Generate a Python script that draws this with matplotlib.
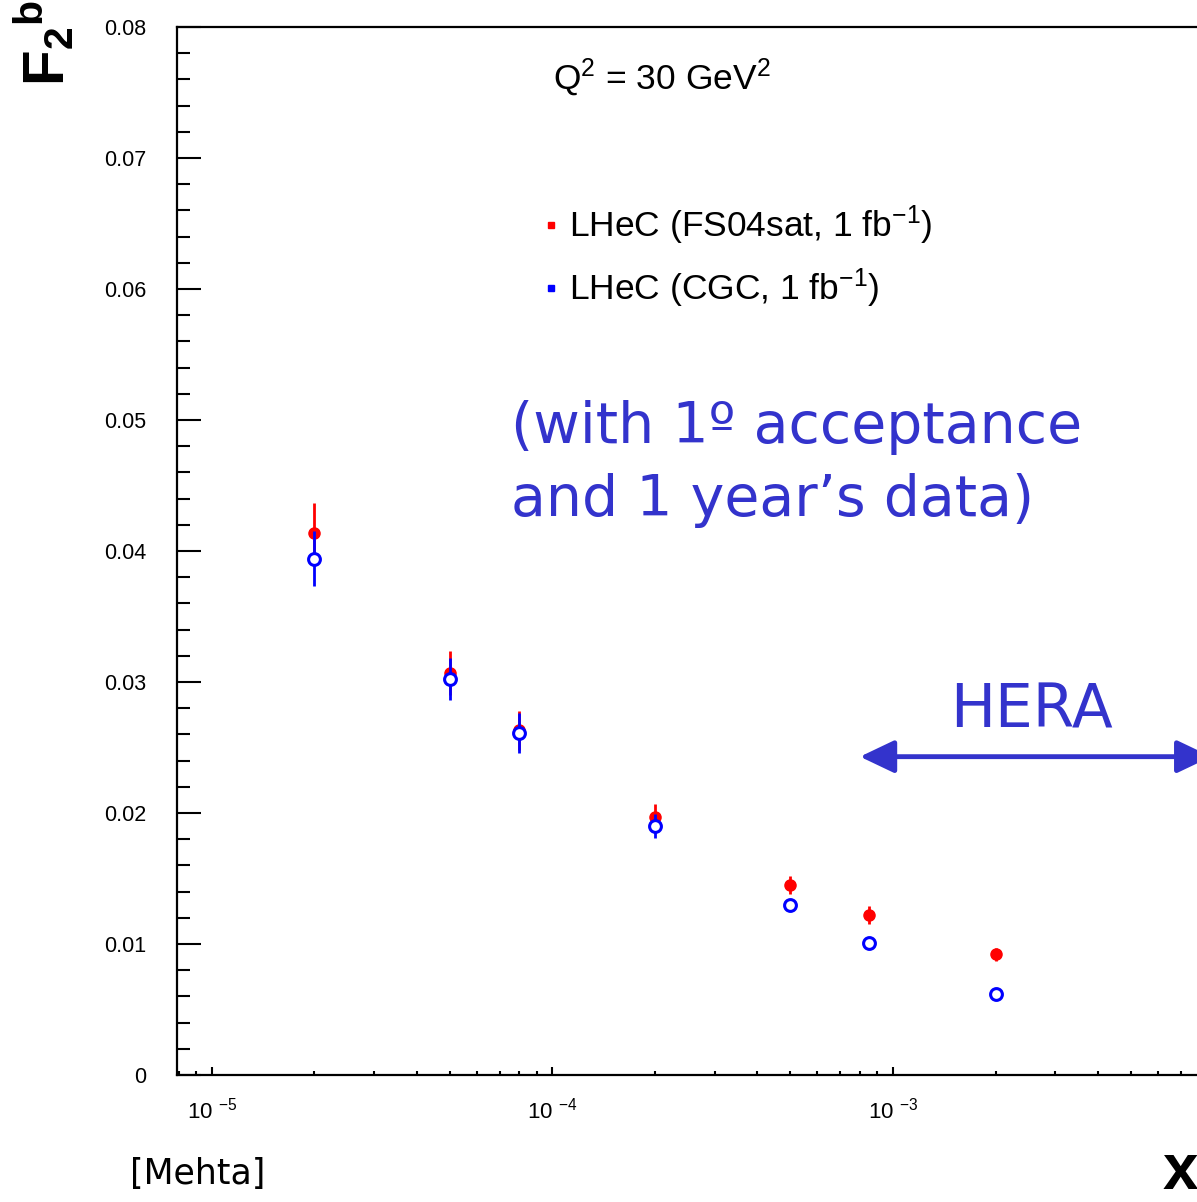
import numpy as np
import matplotlib.pyplot as plt
from matplotlib.lines import Line2D

plt.rcParams['font.family'] = 'Liberation Sans'
plt.rcParams['mathtext.fontset'] = 'custom'
plt.rcParams['mathtext.rm'] = 'Liberation Sans'
plt.rcParams['mathtext.it'] = 'Liberation Sans:italic'
plt.rcParams['mathtext.bf'] = 'Liberation Sans:bold'
plt.rcParams['axes.unicode_minus'] = False

# data
x = [2e-5, 5e-5, 8e-5, 2e-4, 5e-4, 8.5e-4, 2e-3]
f2b_sat = [0.0414, 0.0307, 0.0263, 0.0197, 0.0145, 0.0122, 0.0092]
err_sat = [0.0023, 0.0017, 0.0015, 0.0010, 0.0007, 0.0007, 0.0005]
f2b_cgc = [0.0394, 0.0302, 0.0261, 0.0190, 0.0130, 0.0101, 0.0062]
err_cgc = [0.0021, 0.0016, 0.0015, 0.0009, 0.0004, 0.0003, 0.0003]

xticks = [1e-5, 1e-4, 1e-3]
xtick_labels = ["10 $^{-5}$", "10 $^{-4}$", "10 $^{-3}$"]
yticks = [0, 0.01, 0.02, 0.03, 0.04, 0.05, 0.06, 0.07, 0.08]
ytick_labels = ["0", "0.01", "0.02", "0.03", "0.04", "0.05", "0.06", "0.07", "0.08"]

labels = ["LHeC (FS04sat, 1 fb$^{-1}$)", "LHeC (CGC, 1 fb$^{-1}$)"]
hand_blue = "#3333cc"

W, H = 1197, 1202
fig = plt.figure(figsize=(W / 100, H / 100), dpi=100)
ax = fig.add_axes([177 / W, 1 - 1075 / H, (1233.6 - 177) / W, (1075 - 27) / H])

# data
ax.errorbar(x, f2b_sat, yerr=err_sat, fmt='o', color='red', ms=8,
            elinewidth=2, capsize=0, zorder=3)
ax.errorbar(x, f2b_cgc, yerr=err_cgc, fmt='o', color='blue', mfc='white',
            mec='blue', mew=2.2, ms=8.5, elinewidth=2, capsize=0, zorder=4)

ax.set_xscale('log')
ax.set_xlim(7.91e-6, 1e-2)
ax.set_ylim(0, 0.08)

ax.set_xticks(xticks)
ax.set_xticklabels(xtick_labels, fontsize=16)
ax.set_yticks(yticks)
ax.set_yticklabels(ytick_labels, fontsize=15.5)
ax.set_yticks(np.arange(0, 0.0801, 0.002), minor=True)
ax.tick_params(axis='y', which='major', direction='in', length=17, width=1.5, pad=22)
ax.tick_params(axis='y', which='minor', direction='in', length=9, width=1.5)
ax.tick_params(axis='x', which='major', direction='in', length=6, width=1.5, pad=16)
ax.tick_params(axis='x', which='minor', direction='in', length=3, width=1.5)
for s in ax.spines.values():
    s.set_linewidth(1.6)

# legend
handles = [Line2D([], [], ls='none', marker='s', ms=4, color='red'),
           Line2D([], [], ls='none', marker='s', ms=4, color='blue')]
ax.legend(handles, labels, loc='upper left', frameon=False, fontsize=25.5,
          bbox_to_anchor=(544 / W, 1 - 204 / H), bbox_transform=fig.transFigure,
          borderpad=0, borderaxespad=0, handlelength=0.4, handletextpad=0.3,
          labelspacing=0.55)

fig.text(553 / W, 1 - 78 / H, "Q$^2$ = 30 GeV$^2$", fontsize=25.5, va='center')

# axis titles
fig.text(12 / W, 1 - 0 / H, r"$\mathbf{F_2{}^b}$", fontsize=42, rotation=90,
         ha='left', va='top')
fig.text(1163 / W, 1 - 1202 / H, "x", fontsize=46, fontweight='bold',
         ha='left', va='bottom')

# hand annotations
fig.text(511 / W, 1 - 464 / H, "(with 1º acceptance\nand 1 year’s data)",
         fontsize=41, color=hand_blue, family='DejaVu Sans', linespacing=1.4,
         ha='left', va='center')
fig.text(1031 / W, 1 - 711 / H, "HERA", fontsize=43, color=hand_blue,
         family='DejaVu Sans', ha='center', va='center')
ax.annotate('', xy=(8.6e-3, 0.0243), xytext=(8.0e-4, 0.0243),
            arrowprops=dict(arrowstyle='<|-|>,head_length=1.05,head_width=0.5',
                            mutation_scale=20, color=hand_blue, lw=3.5,
                            shrinkA=0, shrinkB=0))
fig.text(130 / W, 1 - 1174 / H, "[Mehta]", fontsize=25, family='DejaVu Sans',
         ha='left', va='center')

fig.savefig('out.png', dpi=100)
